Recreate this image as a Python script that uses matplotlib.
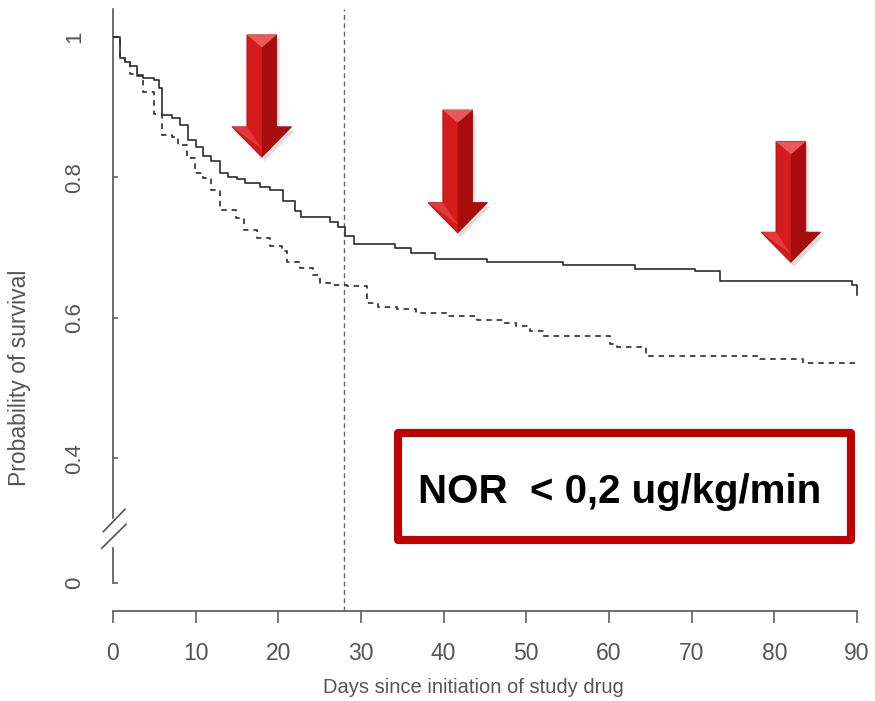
import matplotlib
matplotlib.use('Agg')
import matplotlib.pyplot as plt
from matplotlib.patches import Polygon, Rectangle

# Kaplan-Meier steps (day, survival after the step)
solid_days = [0, 0.9, 1.5, 2.1, 2.9, 3.6, 4.9, 5.6, 5.9, 7.1, 8.1, 9.1, 10.1, 10.9,
              11.9, 12.9, 13.9, 15.0, 16.0, 17.8, 19.0, 20.6, 22.0, 22.8, 26.2,
              27.2, 28.1, 29.1, 34.1, 36.1, 39.0, 45.2, 54.4, 63.1, 70.4, 73.4,
              89.4, 90.0]
solid_surv = [1.0, 0.970, 0.965, 0.959, 0.946, 0.942, 0.939, 0.927, 0.889, 0.885,
              0.875, 0.853, 0.844, 0.830, 0.823, 0.806, 0.801, 0.797, 0.792, 0.787,
              0.782, 0.766, 0.752, 0.744, 0.737, 0.730, 0.716, 0.705, 0.700, 0.692,
              0.684, 0.680, 0.675, 0.670, 0.666, 0.653, 0.647, 0.633]

dashed_days = [0, 0.9, 1.5, 2.1, 2.9, 3.6, 4.9, 5.9, 7.1, 7.9, 8.9, 9.9, 10.9, 11.9,
               12.9, 14.9, 15.9, 17.4, 19.0, 20.4, 21.0, 22.6, 24.2, 25.0, 26.6,
               28.3, 30.7, 32.1, 34.3, 36.7, 40.4, 44.0, 47.2, 48.8, 50.4, 52.0,
               60.1, 61.0, 64.5, 78.3, 83.5, 90.0]
dashed_surv = [1.0, 0.970, 0.965, 0.948, 0.944, 0.922, 0.890, 0.861, 0.858, 0.846,
               0.828, 0.806, 0.799, 0.782, 0.754, 0.742, 0.725, 0.714, 0.702, 0.695,
               0.680, 0.671, 0.661, 0.650, 0.647, 0.645, 0.621, 0.616, 0.612, 0.607,
               0.602, 0.597, 0.593, 0.588, 0.581, 0.574, 0.562, 0.558, 0.546, 0.541,
               0.536, 0.536]

x_ticks = [0, 10, 20, 30, 40, 50, 60, 70, 80, 90]
zero_pos = 0.2226  # where "0" sits below the axis break
y_ticks = [zero_pos, 0.4, 0.6, 0.8, 1.0]
y_tick_labels = ['0', '0.4', '0.6', '0.8', '1']
day_marker = 28

arrow_days = [18.0, 41.7, 82.0]
arrow_tops = [1.003, 0.896, 0.851]
arrow_tips = [0.829, 0.721, 0.679]

FONT = ['Liberation Sans', 'DejaVu Sans']
GREY = '#555555'
LINE = '#333333'


def draw_arrow(ax, x, top, tip):
    hs, hh, head = 1.8, 3.6, 0.043
    base = tip + head
    outline = [(x - hs, top), (x + hs, top), (x + hs, base), (x + hh, base),
               (x, tip), (x - hh, base), (x - hs, base)]
    ax.add_patch(Polygon([(px + 0.35, py - 0.006) for px, py in outline], closed=True,
                         facecolor='#dedede', edgecolor='none', zorder=4))
    ax.add_patch(Polygon(outline, closed=True, facecolor='#d41c1c',
                         edgecolor='#b01010', lw=0.6, zorder=5))
    ax.add_patch(Polygon([(x, top - 0.018), (x + hs, top), (x + hs, base),
                          (x + hh, base), (x, tip)], closed=True,
                         facecolor='#a80c0c', edgecolor='none', zorder=6))
    ax.add_patch(Polygon([(x - hs, top), (x + hs, top), (x, top - 0.018)], closed=True,
                         facecolor='#e85a5a', edgecolor='none', zorder=6))
    ax.add_patch(Polygon([(x - hh, base), (x - hs, base), (x, tip + 0.012)], closed=True,
                         facecolor='#e23a3a', edgecolor='none', zorder=6))


fig = plt.figure(figsize=(8.75, 7.01), dpi=100)
ax = fig.add_axes([0.12914, 0.128388, 0.86446, 0.858887])
ax.set_xlim(0, 91.5)
ax.set_ylim(0.1823, 1.04)

ax.step(solid_days, solid_surv, where='post', color=LINE, lw=1.25, zorder=3)
ax.step(dashed_days, dashed_surv, where='post', color=LINE, lw=1.25,
        linestyle=(0, (3.2, 2.8)), zorder=3)
ax.axvline(day_marker, color='#666666', lw=1.0, linestyle=(0, (3.5, 2.5)), zorder=2)

for d, t, p in zip(arrow_days, arrow_tops, arrow_tips):
    draw_arrow(ax, d, t, p)

# axes in R style, with a break on the y axis
for side in ['top', 'right']:
    ax.spines[side].set_visible(False)
for side in ['left', 'bottom']:
    ax.spines[side].set_color(GREY)
    ax.spines[side].set_linewidth(1.2)
ax.spines['bottom'].set_bounds(0, 90)
ax.spines['left'].set_bounds(0.315, 1.04)
ax.plot([0, 0], [zero_pos, 0.2716], color=GREY, lw=1.2, clip_on=False)
ax.plot([-1.17, 1.45], [0.2953, 0.3272], color=GREY, lw=1.2, clip_on=False)
ax.plot([-1.37, 1.57], [0.2716, 0.3058], color=GREY, lw=1.2, clip_on=False)

ax.set_xticks(x_ticks)
ax.set_xticklabels([str(t) for t in x_ticks], family=FONT, fontsize=16.5, color=GREY)
ax.tick_params(axis='x', direction='out', length=8.6, width=1.1, color=GREY, pad=14)
ax.set_yticks(y_ticks)
ax.set_yticklabels(y_tick_labels, family=FONT, fontsize=16, color=GREY,
                   rotation=90, va='center')
ax.tick_params(axis='y', direction='in', length=3.6, width=1.1, color=GREY, pad=20)

fig.text(473 / 875, 1 - 693 / 701, 'Days since initiation of study drug', ha='center',
         va='baseline', fontsize=14.5, color=GREY, family=FONT)
fig.text(20 / 875, 1 - 378 / 701, 'Probability of survival', ha='center', va='center',
         rotation=90, fontsize=16.5, color=GREY, family=FONT)

box = Rectangle((397.5 / 875, 1 - 540 / 701), (851 - 397.5) / 875, (540 - 433) / 701,
                transform=fig.transFigure, fill=False, edgecolor='#c00000', lw=5.8,
                joinstyle='round')
fig.add_artist(box)
fig.text(620 / 875, 1 - 503 / 701, 'NOR  < 0,2 ug/kg/min', ha='center', va='baseline',
         fontsize=29, fontweight='bold', color='black', family=FONT)

fig.savefig('out.png', dpi=100)
